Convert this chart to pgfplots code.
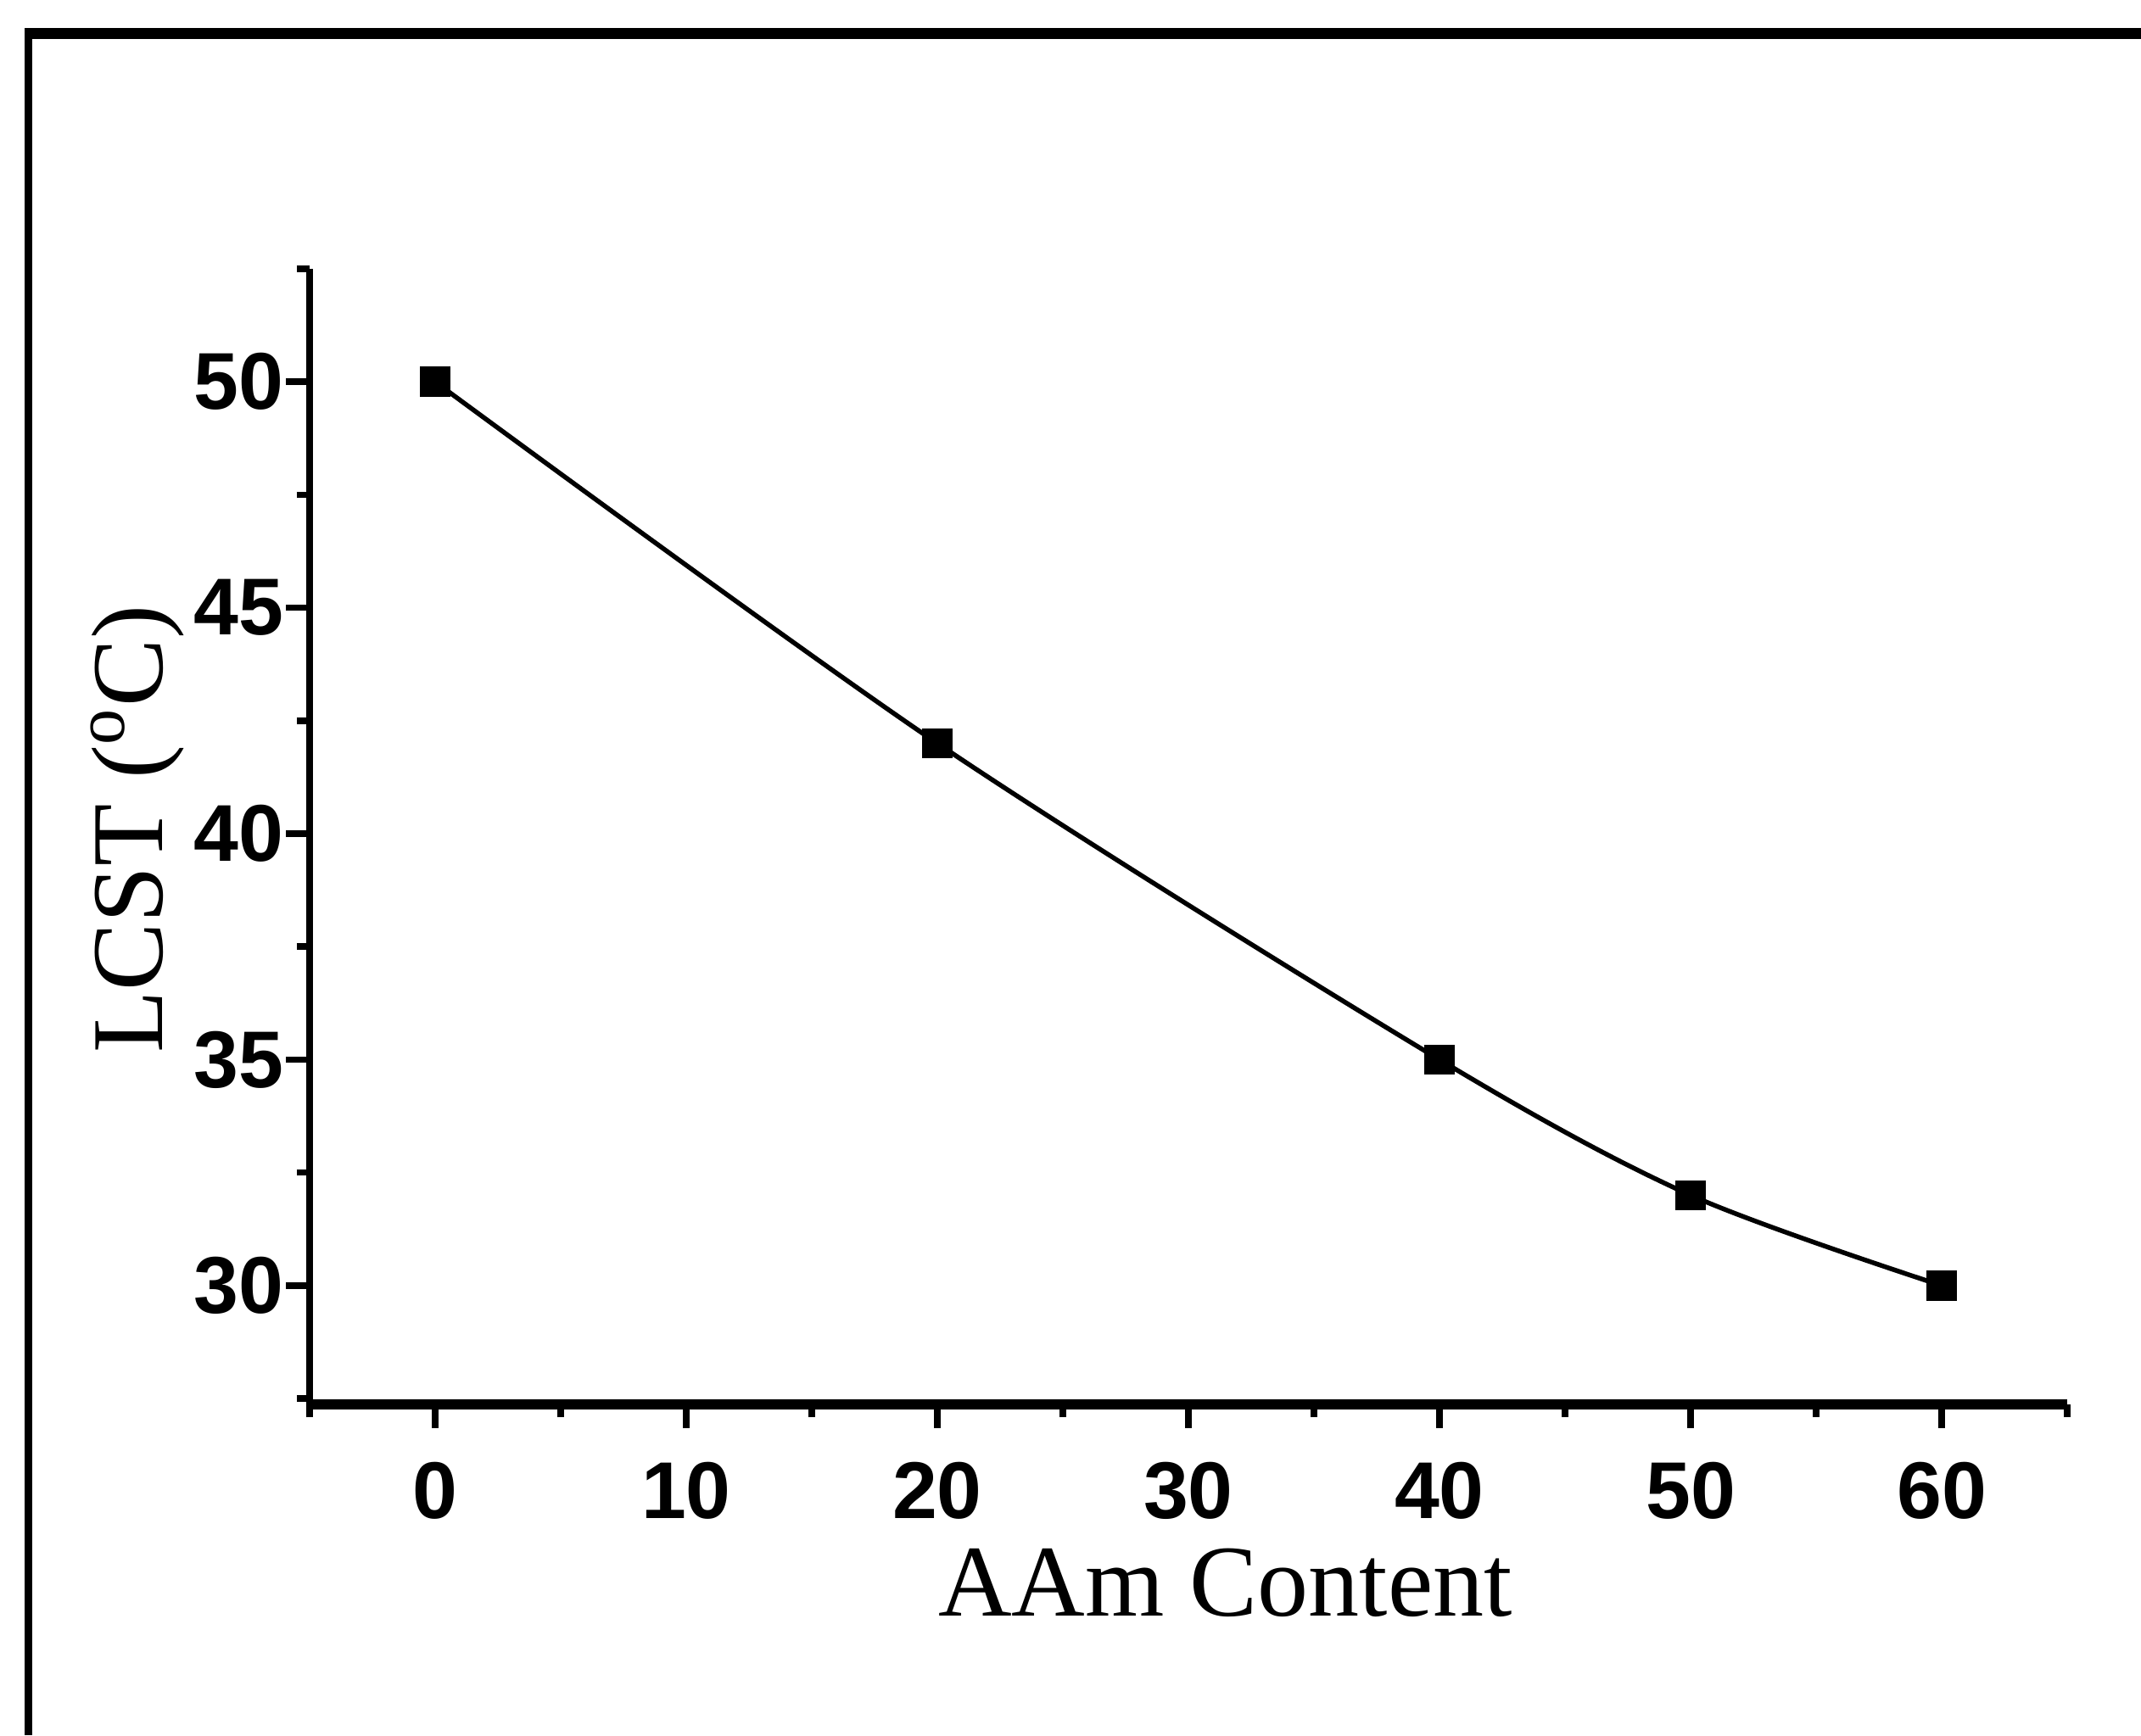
\documentclass[border=0pt]{standalone}
\usepackage{fontspec}
\setmainfont{Liberation Serif}
\setsansfont{Liberation Sans}
\usepackage{pgfplots}
\pgfplotsset{compat=1.18}
\begin{document}
\begin{tikzpicture}
\begin{axis}[
  at={(0pt,0pt)}, anchor=south west,
  scale only axis,
  width=414.4pt, height=267.8pt,
  xmin=-5, xmax=65, ymin=27.37, ymax=52.5,
  axis x line*=bottom, axis y line*=left,
  axis line style={-},
  x axis line style={line width=2.3pt},
  y axis line style={line width=1.7pt},
  xtick={0,10,...,60}, ytick={30,35,...,50},
  minor xtick={-5,5,...,65}, minor ytick={27.5,32.5,...,52.5},
  tick align=outside,
  major tick length=5.5pt, minor tick length=3pt,
  every tick/.style={black, line width=1.5pt},
  /pgf/number format/assume math mode=true,
  ticklabel style={font=\sffamily\bfseries\fontsize{19}{19}\selectfont},
  xticklabel style={inner sep=0pt, yshift=-8pt},
  yticklabel style={inner sep=0pt, xshift=-0.5pt},
  xlabel={AAm Content},
  ylabel={LCST (\textsuperscript{o}C)},
  label style={font=\fontsize{24}{24}\selectfont},
  xlabel style={at={(axis description cs:0.521,-0.186)}, anchor=base},
  ylabel style={at={(axis description cs:-0.0835,0.5067)}, anchor=base},
]
\addplot[black, line width=1.1pt, smooth, tension=0.5,
  mark=square*, mark size=3.4pt, mark options={solid, line width=0.3pt}]
  coordinates {(0,50) (20,42) (40,35) (50,32) (60,30)};
\end{axis}
% frame of the original figure (top and left edges)
\draw[line width=1.8pt] (-66.2pt,-78pt) -- (-66.2pt,323.2pt);
\draw[line width=2.6pt] (-67.1pt,323.2pt) -- (431.8pt,323.2pt);
\pgfresetboundingbox
\path (-73pt,-78pt) rectangle (431.8pt,331.2pt);
\end{tikzpicture}
\end{document}
